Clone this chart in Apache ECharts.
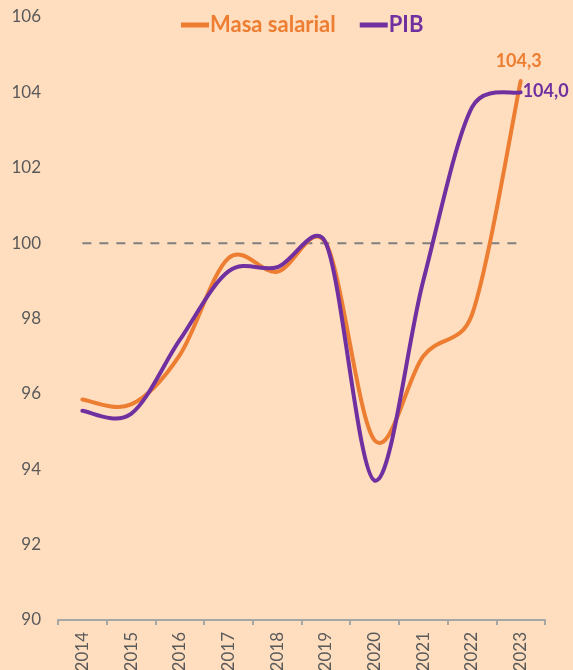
<!DOCTYPE html>
<html>
<head>
<meta charset="UTF-8">
<title>Masa salarial y PIB</title>
<script src="https://cdn.jsdelivr.net/npm/echarts@6/dist/echarts.min.js"></script>
<style>
html, body { margin: 0; padding: 0; background: #FFDEC0; }
#chart { width: 573px; height: 670px; }
</style>
</head>
<body>
<div id="chart"></div>
<script>
// datos
var years = ['2014', '2015', '2016', '2017', '2018', '2019', '2020', '2021', '2022', '2023'];
var masaSalarial = [95.85, 95.72, 97.03, 99.6, 99.24, 100.0, 94.77, 97.0, 98.1, 104.3];
var pib = [95.55, 95.47, 97.43, 99.25, 99.36, 100.0, 93.7, 99.0, 103.6, 104.0];
var base = [100, 100, 100, 100, 100, 100, 100, 100, 100, 100];

var orange = '#ED7D31';
var purple = '#7030A0';
var font = 'Lato, "Open Sans", sans-serif';
var tension = 1 / 6;   // suavizado tipo Excel
var armLimit = 0.5;    // brazo de control <= mitad del tramo vecino

function fmt(v) { return v.toFixed(1).replace('.', ','); }

function dist(a, b) { return Math.sqrt((a[0] - b[0]) * (a[0] - b[0]) + (a[1] - b[1]) * (a[1] - b[1])); }

// punto de control a partir de p1 en direccion (p2 - p0), limitado por el tramo 'seg'
function ctrl(p1, p0, p2, sign, seg) {
	var vx = (p2[0] - p0[0]) * tension, vy = (p2[1] - p0[1]) * tension;
	var len = Math.sqrt(vx * vx + vy * vy);
	var max = armLimit * seg;
	if (len > max && len > 0) { vx *= max / len; vy *= max / len; }
	return [p1[0] + sign * vx, p1[1] + sign * vy];
}

// curva suavizada que pasa por los puntos, con etiqueta en el ultimo
function smoothCurve(values, color, lab) {
	return function (params, api) {
		if (params.dataIndex !== 0) return null;
		var pts = values.map(function (v, i) { return api.coord([i, v]); });
		var d = 'M' + pts[0][0] + ',' + pts[0][1];
		for (var i = 0; i < pts.length - 1; i++) {
			var p0 = pts[i - 1] || pts[i], p1 = pts[i], p2 = pts[i + 1], p3 = pts[i + 2] || pts[i + 1];
			var seg = dist(p1, p2);
			var c1 = ctrl(p1, p0, p2, 1, seg);
			var c2 = ctrl(p2, p1, p3, -1, seg);
			d += ' C' + c1.join(',') + ' ' + c2.join(',') + ' ' + p2.join(',');
		}
		var last = pts[pts.length - 1];
		return {
			type: 'group',
			children: [
				{
					type: 'path',
					shape: { pathData: d },
					style: { stroke: color, lineWidth: 4, fill: null, lineCap: 'round', lineJoin: 'round' }
				},
				{
					type: 'text',
					x: last[0] + lab.dx, y: last[1] + lab.dy,
					style: {
						text: fmt(values[values.length - 1]), fill: color,
						fontSize: 18, fontWeight: 'bold', fontFamily: font,
						align: lab.align, verticalAlign: lab.va
					}
				}
			]
		};
	};
}

function pairs(values) { return values.map(function (v, i) { return [i, v]; }); }

var chart = echarts.init(document.getElementById('chart'));
var option = {
	backgroundColor: '#FFDEC0',
	animation: false,
	legend: {
		top: 9,
		left: 176,
		itemGap: 24,
		itemWidth: 28,
		itemHeight: 5,
		icon: 'rect',
		textStyle: { fontFamily: font, fontSize: 22, fontWeight: 'bold', padding: [0, 0, 0, -4] },
		data: [
			{ name: 'Masa salarial', textStyle: { color: orange } },
			{ name: 'PIB', textStyle: { color: purple } }
		]
	},
	grid: { left: 58, right: 28, top: 17, bottom: 50, outerBoundsMode: 'none', containLabel: false },
	xAxis: {
		type: 'category',
		data: years,
		axisLine: { lineStyle: { color: '#A6A6A6', width: 2 } },
		axisTick: { show: true, lineStyle: { color: '#A6A6A6', width: 2 }, length: 5 },
		axisLabel: { rotate: 90, color: '#595959', fontSize: 17, fontFamily: font, margin: 12 }
	},
	yAxis: {
		type: 'value',
		min: 90, max: 106, interval: 2,
		splitLine: { show: false },
		axisLine: { show: false },
		axisTick: { show: false },
		axisLabel: { color: '#595959', fontSize: 17, fontFamily: font, margin: 17 }
	},
	series: [
		{
			name: 'base', type: 'line', data: base, symbol: 'none', silent: true,
			lineStyle: { color: '#7F7F7F', width: 2, type: [9, 8] }, z: 1
		},
		{
			name: 'Masa salarial', type: 'custom', data: pairs(masaSalarial),
			encode: { x: 0, y: 1 },
			itemStyle: { color: orange },
			renderItem: smoothCurve(masaSalarial, orange, { dx: -2, dy: -11, align: 'center', va: 'bottom' }),
			z: 2
		},
		{
			name: 'PIB', type: 'custom', data: pairs(pib),
			encode: { x: 0, y: 1 },
			itemStyle: { color: purple },
			renderItem: smoothCurve(pib, purple, { dx: 2, dy: -1, align: 'left', va: 'middle' }),
			z: 3
		}
	]
};
chart.setOption(option);
</script>
</body>
</html>
